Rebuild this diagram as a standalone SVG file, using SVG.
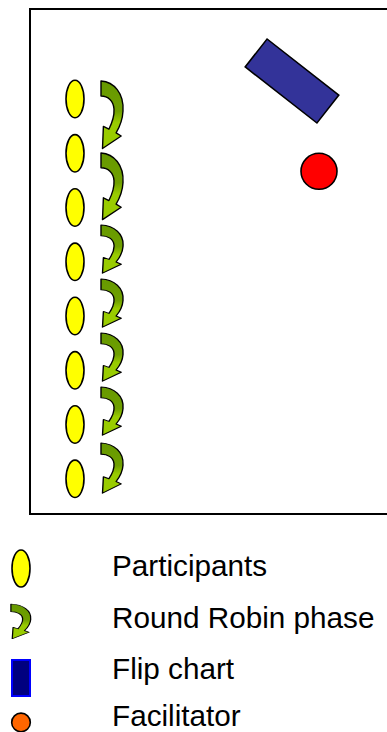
<svg xmlns="http://www.w3.org/2000/svg" width="387" height="732" viewBox="0 0 387 732">
<style>
.p{fill:#FFFF00;stroke:#000;stroke-width:1.6}
.arr{fill:url(#g);stroke:#000;stroke-width:1.4;stroke-linejoin:round}
.lbl{font-family:"Liberation Sans",Arial,sans-serif;font-size:29.7px;fill:#000}
</style>
<defs>
<linearGradient id="g" x1="0" y1="0" x2="0" y2="1">
<stop offset="0" stop-color="#669900"/>
<stop offset="0.45" stop-color="#6f9f00"/>
<stop offset="0.62" stop-color="#99CC00"/>
<stop offset="1" stop-color="#99CC00"/>
</linearGradient>
<path id="arrow" d="M1,0 C14,1 24,12 23,30 C22.5,40 19,47 16.1,51.8 L21.2,55 L2.5,67.5 L3.4,45.4 L8.9,48.2 C12,42 14.5,36 14,28 C13.5,20 8,15 1,15 Z"/>
</defs>
<rect id="room" x="30" y="9" width="360" height="505" fill="none" stroke="#000" stroke-width="2"/>
<g id="flipchart">
<rect x="-45.5" y="-17.75" width="91" height="35.5" transform="translate(292,81) rotate(38)" fill="#333399" stroke="#000" stroke-width="1.6"/>
</g>
<g id="facilitator">
<circle cx="319" cy="171.3" r="18" fill="#FF0000" stroke="#000" stroke-width="1.6"/>
</g>
<g id="participants">
<ellipse class="p" cx="75" cy="99" rx="9" ry="18.7"/>
<ellipse class="p" cx="75" cy="153.3" rx="9" ry="18.7"/>
<ellipse class="p" cx="75" cy="207.5" rx="9" ry="18.7"/>
<ellipse class="p" cx="75" cy="261.8" rx="9" ry="18.7"/>
<ellipse class="p" cx="75" cy="316" rx="9" ry="18.7"/>
<ellipse class="p" cx="75" cy="370.3" rx="9" ry="18.7"/>
<ellipse class="p" cx="75" cy="424.5" rx="9" ry="18.7"/>
<ellipse class="p" cx="75" cy="478.8" rx="9" ry="18.7"/>
</g>
<g id="connectors">
<use href="#arrow" class="arr" transform="translate(100,81)"/>
<use href="#arrow" class="arr" transform="translate(100,153) scale(1,0.986)"/>
<use href="#arrow" class="arr" transform="translate(100,225) scale(1,0.714)"/>
<use href="#arrow" class="arr" transform="translate(100,279) scale(1,0.714)"/>
<use href="#arrow" class="arr" transform="translate(100,333) scale(1,0.714)"/>
<use href="#arrow" class="arr" transform="translate(100,387) scale(1,0.714)"/>
<use href="#arrow" class="arr" transform="translate(100,443) scale(1,0.743)"/>
</g>
<g id="legend">
<ellipse class="p" cx="21" cy="568.5" rx="9" ry="18.5"/>
<use href="#arrow" class="arr" transform="translate(10,604) scale(0.9,0.514)"/>
<rect x="12" y="660" width="18" height="36" fill="#000080" stroke="#0000FF" stroke-width="2"/>
<circle cx="21" cy="722.4" r="9.3" fill="#FF6600" stroke="#000" stroke-width="1.6"/>
<text class="lbl" x="112" y="576">Participants</text>
<text class="lbl" x="112" y="627.5">Round Robin phase</text>
<text class="lbl" x="112" y="678.5">Flip chart</text>
<text class="lbl" x="112" y="725.5">Facilitator</text>
</g>
</svg>
